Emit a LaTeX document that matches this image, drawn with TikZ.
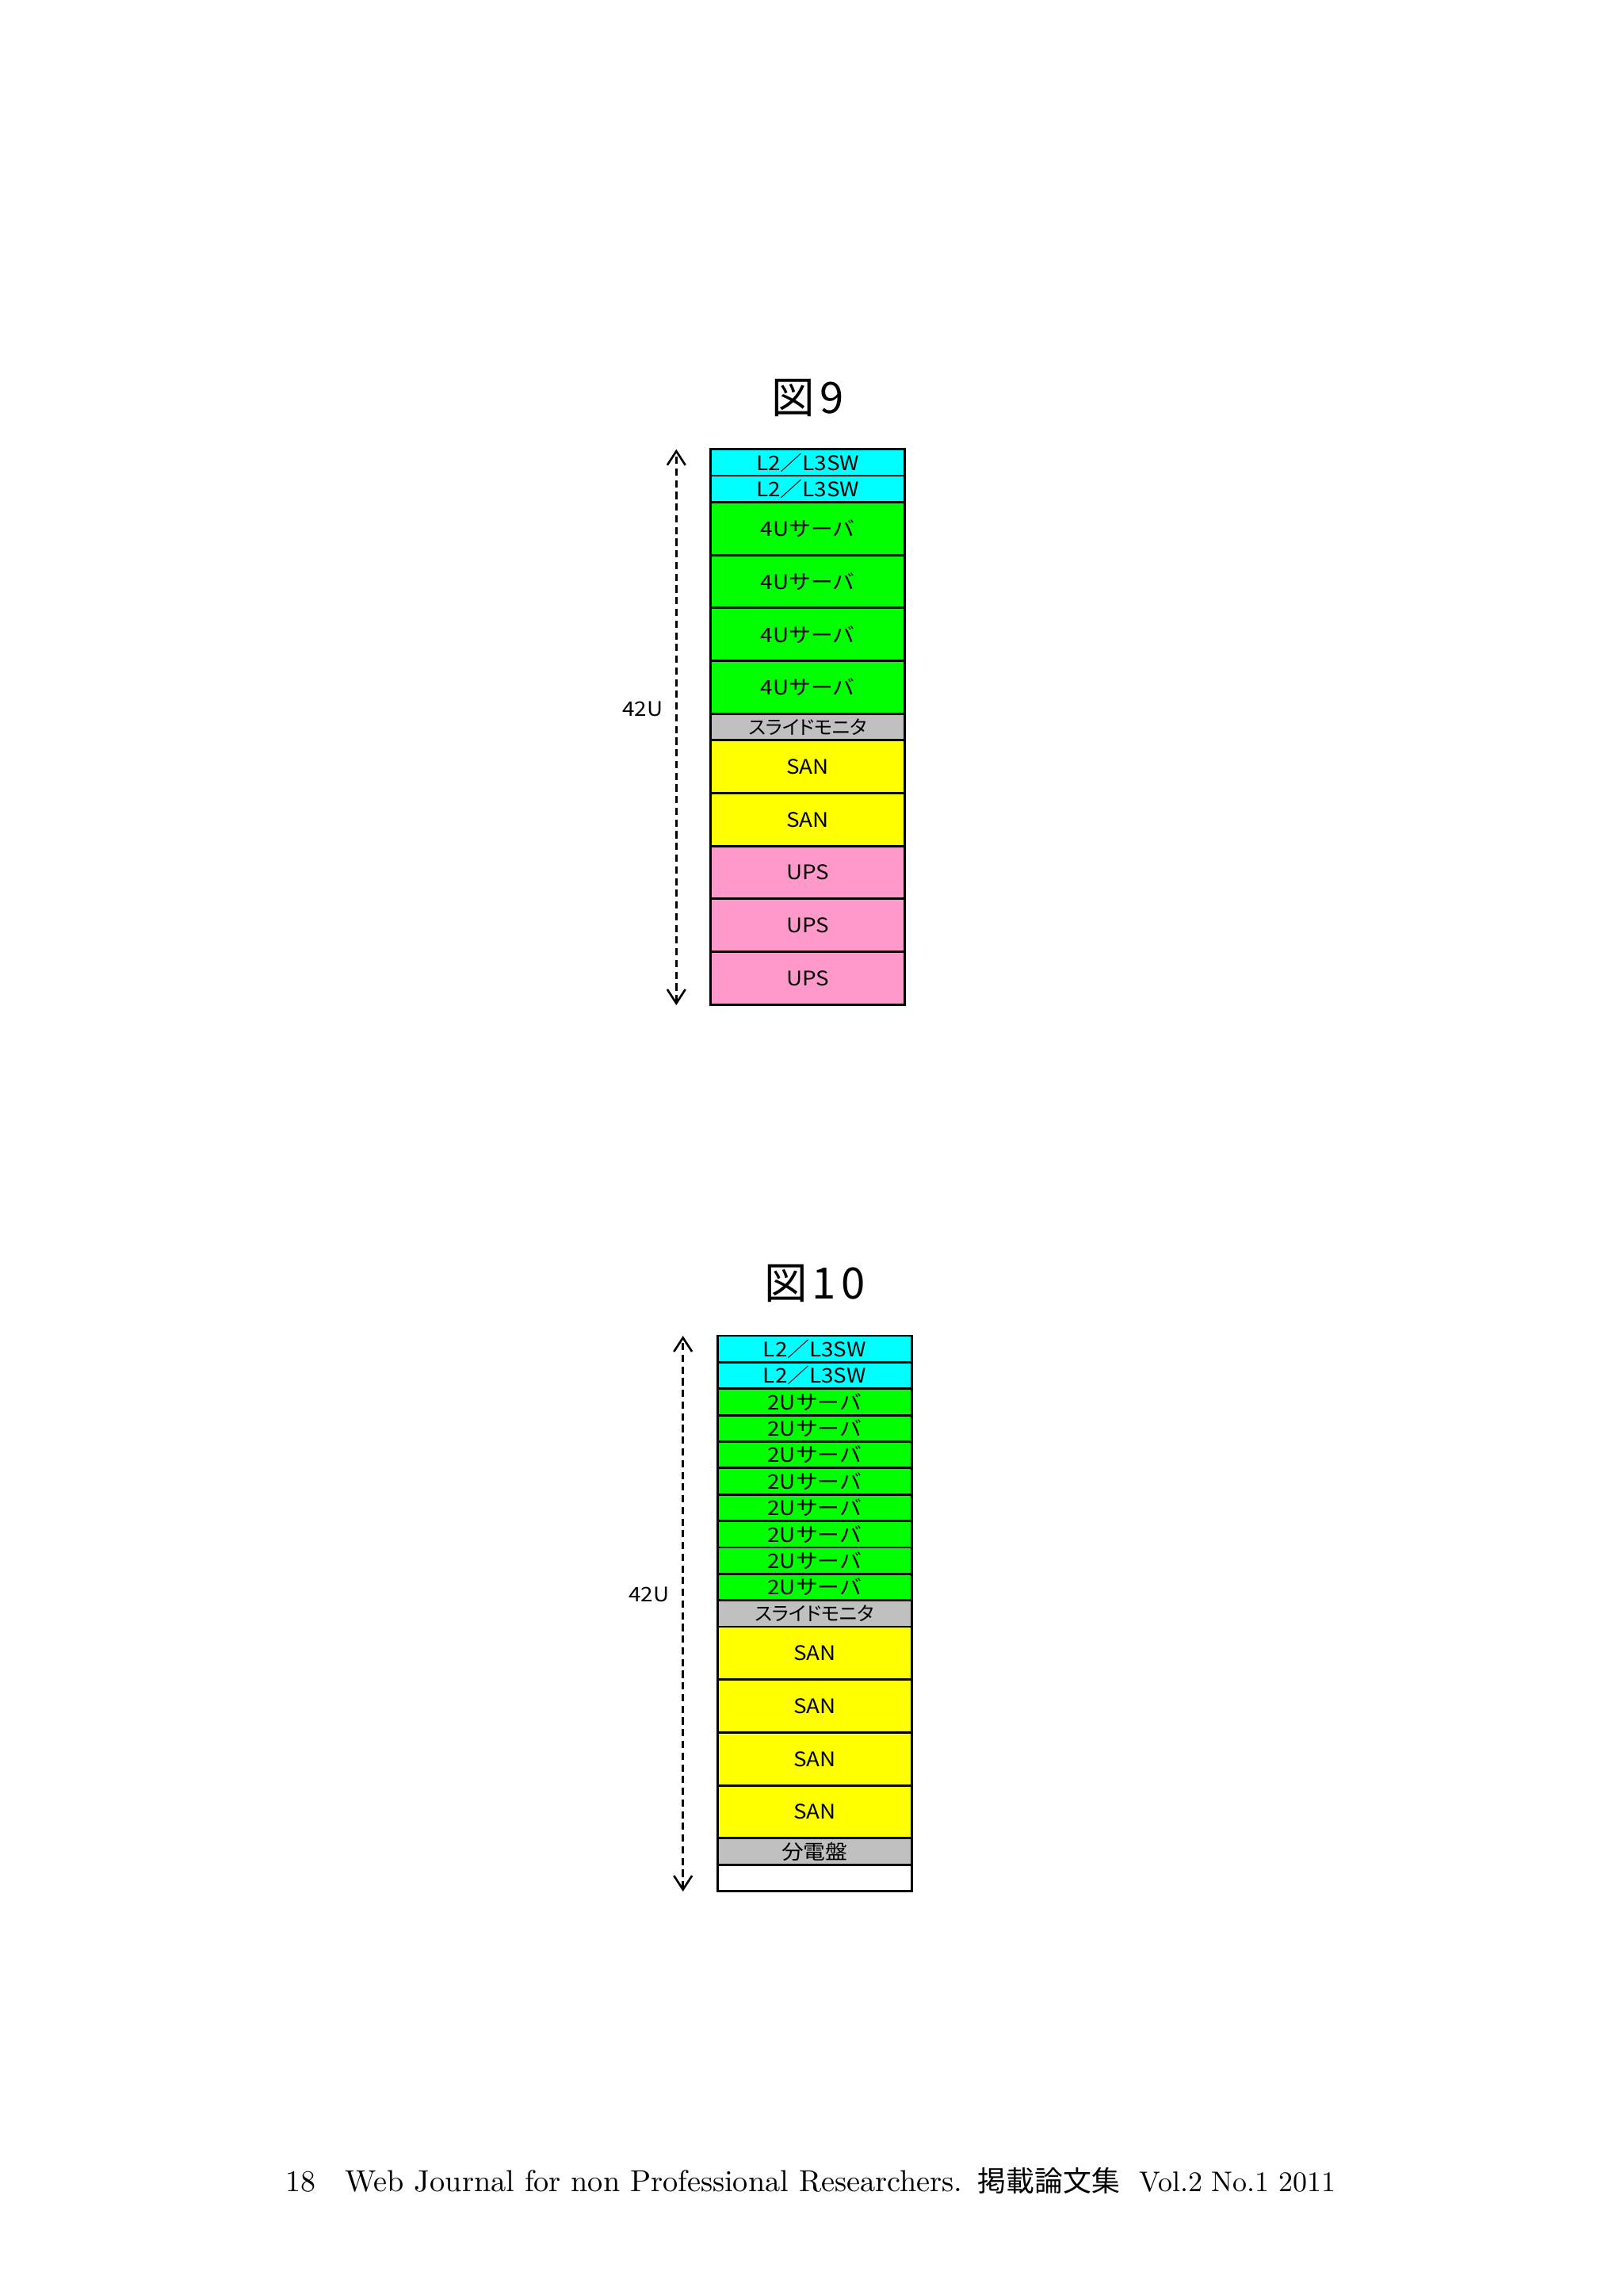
\documentclass[tikz,border=0pt]{standalone}
\usepackage{fontspec}
\usetikzlibrary{positioning,arrows.meta}
\newfontfamily\jpfont{Noto Sans CJK JP}
\newfontfamily\rackfont[FakeStretch=1.1]{Noto Sans CJK JP}
\newfontfamily\racknarrow[RawFeature=+palt]{Noto Sans CJK JP}
\definecolor{swcyan}{RGB}{0,255,255}
\definecolor{srvgreen}{RGB}{0,255,0}
\definecolor{kvmgray}{RGB}{192,192,192}
\definecolor{sanyellow}{RGB}{255,255,0}
\definecolor{upspink}{RGB}{255,153,204}

\begin{document}
\begin{tikzpicture}[
        rackrow/.style = {draw, line width = 0.8pt, outer sep = 0pt, inner sep = 0pt,
                          minimum width = 2.45cm, font = {\rackfont\fontsize{7.2}{7.2}\selectfont}},
        oneu/.style = {rackrow, minimum height = 0.3336cm},
        twou/.style = {rackrow, minimum height = 0.6672cm},
        swrow/.style = {oneu, fill = swcyan},
        srvfour/.style = {twou, fill = srvgreen},
        srvtwo/.style = {oneu, fill = srvgreen},
        kvmrow/.style = {oneu, fill = kvmgray, font = {\racknarrow\fontsize{6.9}{6.9}\selectfont}},
        sanrow/.style = {twou, fill = sanyellow},
        upsrow/.style = {twou, fill = upspink},
        pdurow/.style = {oneu, fill = kvmgray},
        blankrow/.style = {oneu, fill = white},
        dimline/.style = {line width = 0.75pt, dash pattern = on 2.6pt off 1.6pt,
                          {Straight Barb[length=5pt,width=6.5pt]}-{Straight Barb[length=5pt,width=6.5pt]}},
        caption/.style = {font = {\jpfont\fontsize{15.5}{15.5}\selectfont}},
        unitlabel/.style = {font = {\rackfont\fontsize{7.2}{7.2}\selectfont}},
        footer/.style = {anchor = base west, inner sep = 0pt, font = {\fontsize{10.8}{10.8}\selectfont}}
    ]
    \useasboundingbox[fill = white] (0, 0) rectangle (20.48, -28.95);

    % figure 9
    \node[caption] (cap9) at (10.19, -5.02) {図\kern0.12em 9};
    \node[swrow, anchor = north] (f9sw1) at (10.192, -5.667) {L2／L3SW};
    \node[swrow, below = 0pt of f9sw1] (f9sw2) {L2／L3SW};
    \node[srvfour, below = 0pt of f9sw2] (f9srv1) {4Uサーバ};
    \node[srvfour, below = 0pt of f9srv1] (f9srv2) {4Uサーバ};
    \node[srvfour, below = 0pt of f9srv2] (f9srv3) {4Uサーバ};
    \node[srvfour, below = 0pt of f9srv3] (f9srv4) {4Uサーバ};
    \node[kvmrow, below = 0pt of f9srv4] (f9kvm) {スライドモニタ};
    \node[sanrow, below = 0pt of f9kvm] (f9san1) {SAN};
    \node[sanrow, below = 0pt of f9san1] (f9san2) {SAN};
    \node[upsrow, below = 0pt of f9san2] (f9ups1) {UPS};
    \node[upsrow, below = 0pt of f9ups1] (f9ups2) {UPS};
    \node[upsrow, below = 0pt of f9ups2] (f9ups3) {UPS};

    \coordinate (f9up) at (8.533, -5.667);
    \coordinate (f9dn) at (8.533, -12.68);
    \draw[dimline] (f9dn) -- (f9up);
    \node[unitlabel] (f9height) at (8.107, -8.94) {42U};

    % figure 10
    \node[caption] (cap10) at (10.28, -16.19) {図\kern0.12em 1\kern0.12em 0};
    \node[swrow, anchor = north] (f10sw1) at (10.279, -16.85) {L2／L3SW};
    \node[swrow, below = 0pt of f10sw1] (f10sw2) {L2／L3SW};
    \node[srvtwo, below = 0pt of f10sw2] (f10srv1) {2Uサーバ};
    \node[srvtwo, below = 0pt of f10srv1] (f10srv2) {2Uサーバ};
    \node[srvtwo, below = 0pt of f10srv2] (f10srv3) {2Uサーバ};
    \node[srvtwo, below = 0pt of f10srv3] (f10srv4) {2Uサーバ};
    \node[srvtwo, below = 0pt of f10srv4] (f10srv5) {2Uサーバ};
    \node[srvtwo, below = 0pt of f10srv5] (f10srv6) {2Uサーバ};
    \node[srvtwo, below = 0pt of f10srv6] (f10srv7) {2Uサーバ};
    \node[srvtwo, below = 0pt of f10srv7] (f10srv8) {2Uサーバ};
    \node[kvmrow, below = 0pt of f10srv8] (f10kvm) {スライドモニタ};
    \node[sanrow, below = 0pt of f10kvm] (f10san1) {SAN};
    \node[sanrow, below = 0pt of f10san1] (f10san2) {SAN};
    \node[sanrow, below = 0pt of f10san2] (f10san3) {SAN};
    \node[sanrow, below = 0pt of f10san3] (f10san4) {SAN};
    \node[pdurow, below = 0pt of f10san4] (f10pdu) {分電盤};
    \node[blankrow, below = 0pt of f10pdu] (f10blank) {};

    \coordinate (f10up) at (8.617, -16.85);
    \coordinate (f10dn) at (8.617, -23.86);
    \draw[dimline] (f10dn) -- (f10up);
    \node[unitlabel] (f10height) at (8.19, -20.11) {42U};

    % page footer
    \node[footer] (pageno) at (3.60, -27.64) {18};
    \node[footer, font = {\fontsize{10.9}{10.9}\selectfont}] (journal) at (4.35, -27.64) {Web Journal for non Professional Researchers.};
    \node[footer, font = {\jpfont\fontsize{10.2}{10.2}\selectfont}] (issue) at (12.33, -27.64) {掲載論文集};
    \node[footer, anchor = base east, font = {\fontsize{10.2}{10.2}\selectfont}] (volume) at (16.86, -27.64) {Vol.2 No.1 2011};
\end{tikzpicture}
\end{document}
